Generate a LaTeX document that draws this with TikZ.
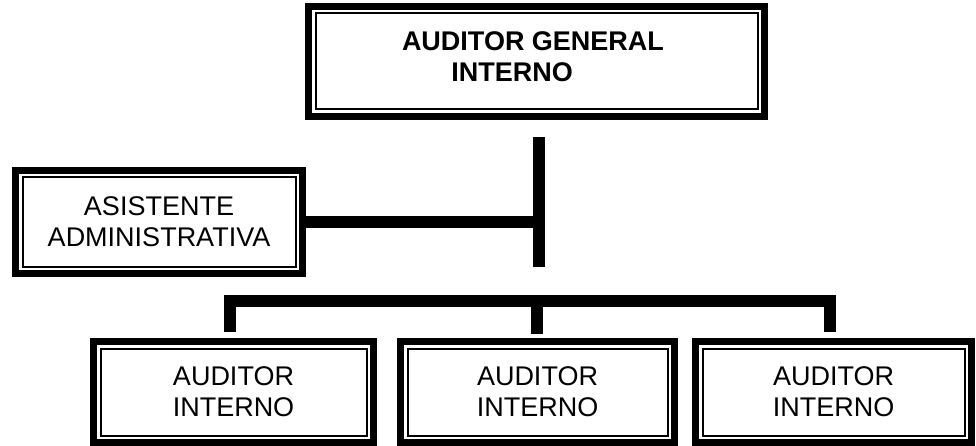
\documentclass[tikz,border=0pt]{standalone}
\usepackage{fontspec}
\setmainfont{Liberation Sans}
\begin{document}
\begin{tikzpicture}[x=1pt,y=-1pt,
  dbox/.style={draw, line width=7pt, inner sep=0pt, fill=white,
    path picture={\draw[line width=2pt]
      ([shift={(7pt,-7pt)}]path picture bounding box.north west) rectangle
      ([shift={(-7pt,7pt)}]path picture bounding box.south east);}},
  lbl/.style={font=\fontsize{27}{31}\selectfont, align=center},
  conn/.style={line width=12pt}
]
\useasboundingbox (0,0) rectangle (976,446);
\fill[white] (0,0) rectangle (976,446);
% boxes
\node[dbox, minimum width=456pt, minimum height=110pt] (top) at (536.5,61.5) {};
\node[lbl, font=\fontsize{27}{31}\selectfont\bfseries] (toptext) at (533,57)
  {AUDITOR GENERAL\\INTERNO\hspace*{42pt}};
\node[dbox, lbl, minimum width=287pt, minimum height=103pt] (asist) at (159,222)
  {ASISTENTE\\ADMINISTRATIVA};
\node[dbox, lbl, minimum width=280pt, minimum height=101pt] (b1) at (233.5,392)
  {AUDITOR\\INTERNO};
\node[dbox, lbl, minimum width=274pt, minimum height=101pt] (b2) at (537.5,392)
  {AUDITOR\\INTERNO};
\node[dbox, lbl, minimum width=276pt, minimum height=101pt] (b3) at (833.5,392)
  {AUDITOR\\INTERNO};
% connector coordinates
\coordinate (vtop) at (539,137);
\coordinate (vbot) at (539,267);
\coordinate (vmid) at (539,231);
\coordinate (busL) at (230,332);
\coordinate (busR) at (830,332);
\coordinate (busY) at (0,300.5);
\coordinate (midtop) at (536.5,300.5);
\coordinate (midbot) at (536.5,334);
% connectors
\draw[conn] (vtop) -- (vbot);
\draw[conn] (asist.east) -- (asist.east -| vmid);
\draw[conn] (busL) -- (busL |- busY) -- (busR |- busY) -- (busR);
\draw[conn] (midtop) -- (midbot);
\end{tikzpicture}
\end{document}
